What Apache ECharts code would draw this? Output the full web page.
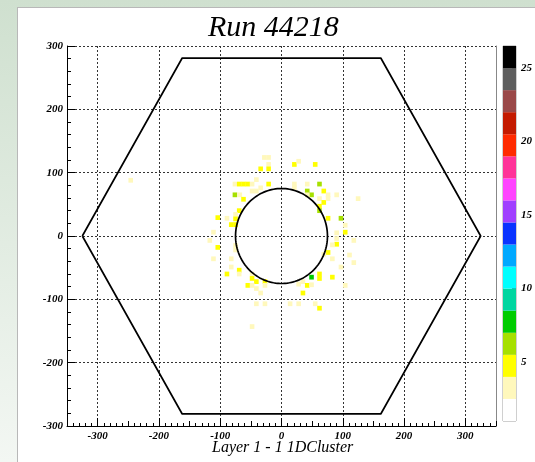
<!DOCTYPE html>
<html><head><meta charset="utf-8">
<script src="https://cdn.jsdelivr.net/npm/echarts@6/dist/echarts.min.js"></script>
<style>
html,body{margin:0;padding:0;width:535px;height:462px;overflow:hidden;background:linear-gradient(to bottom,#cfe0cf,#f3f7f3);}
#panel{position:absolute;left:17px;top:7px;width:530px;height:470px;background:#fff;border:1px solid #b8b8b8;}
#chart{position:absolute;left:0;top:0;width:535px;height:462px;}
</style></head><body><div id="panel"></div><div id="chart"></div>
<script>
const titleText = 'Run 44218';
const xTitle = 'Layer 1 - 1 1DCluster';
const xTicks = [-300, -200, -100, 0, 100, 200, 300];
const yTicks = [-300, -200, -100, 0, 100, 200, 300];
const hexX = [-325, -162, 162, 325, 162, -162, -325];
const hexY = [0, 281, 281, 0, -281, -281, 0];
const ringR = [75];
const cellX = [-28,-21,-21,-34,-21,21,28,55,-41,
  -76,-69,-62,-55,-48,-21,21,21,42,62,-34,
  -76,-68,-62,-48,-41,42,49,42,69,76,90,
  62,69,125,76,62,62,-69,-75,-75,-89,-104,
  -82,-75,76,97,104,104,90,90,-111,-117,118,90,83,
  -104,-75,-75,76,69,83,111,118,-111,-82,-82,
  -69,-69,-89,97,-48,-48,-41,-55,-48,-34,-27,-27,-41,
  28,35,42,49,62,62,83,49,35,104,
  -41,-27,14,28,55,62,-48,-246];
const cellY = [124,124,113,106,106,113,118,113,89,
  82,82,82,82,82,82,82,76,82,82,76,
  65,65,58,71,71,71,65,65,71,65,65,
  59,53,59,59,47,40,40,34,27,28,29,
  18,18,28,28,17,6,5,-4,6,-7,-7,-13,-14,
  -18,-15,-22,-26,-29,-36,-30,-42,-36,-36,-49,
  -54,-60,-60,-49,-60,-67,-72,-78,-78,-90,-72,-78,-83,
  -76,-72,-78,-65,-60,-67,-65,-77,-90,-78,
  -107,-107,-107,-107,-107,-114,-143,88];
const cellV = [3,3,3,5,5,5,3,5,3,
  3,5,5,5,3,5,3,3,3,6,3,
  6,3,5,3,3,6,6,3,5,3,3,
  3,5,3,3,5,6,5,3,5,3,5,
  5,5,5,6,3,5,3,3,3,3,3,5,3,
  5,3,3,5,3,3,3,3,3,3,3,
  5,3,5,3,3,5,5,5,3,3,5,3,3,
  3,3,5,8,5,5,5,3,5,3,
  3,3,3,3,3,5,3,3];
const binW = 7.5, binH = 7.5;
const paletteEdges = [1,2.5,4,5.5,7,8.5,10,11.5,13,14.5,16,17.5,19,20.5,22,23.5,25,26.5];
const paletteColors = ['#ffffff','#fff8bc','#ffff00','#a6e000','#00cc00','#00d6a0','#00ffff','#00a8ff',
  '#0a33ff','#a040ff','#ff44ff','#ff3399','#ff2a00','#c41a00','#9a4848','#5e5e5e','#000000'];
const paletteLabels = [5, 10, 15, 20, 25];

function colorFor(v) {
  for (let i = 0; i < paletteColors.length; i++) {
    if (v >= paletteEdges[i] && v < paletteEdges[i + 1]) return paletteColors[i];
  }
  return paletteColors[paletteColors.length - 1];
}

const serif = 'Liberation Serif';
const chart = echarts.init(document.getElementById('chart'), null, {renderer: 'canvas'});
const G = {left: 67, right: 39, top: 46, bottom: 36};
const labelStyle = {fontFamily: serif, fontStyle: 'italic', fontWeight: 'bold', fontSize: 11, color: '#000'};
const dotted = {color: '#333', width: 1, type: [2, 2]};
const hiddenLine = {show: false, onZero: false};

const option = {
  animation: false,
  backgroundColor: 'transparent',
  grid: [
    Object.assign({containLabel: false}, G),
    {left: 503, width: 13, top: 46, bottom: 41, show: true, borderColor: '#a0a0a0', borderWidth: 1, backgroundColor: 'transparent'}
  ],
  xAxis: [
    {type: 'value', gridIndex: 0, min: -350, max: 350, position: 'bottom',
     axisLine: {show: true, onZero: false, lineStyle: {color: '#000', width: 1}},
     axisTick: {show: true, inside: true, length: 8, customValues: xTicks, lineStyle: {color: '#000'}},
     axisLabel: Object.assign({show: true, customValues: xTicks, margin: 5}, labelStyle),
     splitLine: {show: true, lineStyle: dotted}},
    {type: 'value', gridIndex: 0, min: -350, max: 350, interval: 10, position: 'bottom',
     axisLine: hiddenLine, axisLabel: {show: false}, splitLine: {show: false},
     axisTick: {show: true, inside: true, length: 3, lineStyle: {color: '#000'}}},
    {type: 'value', gridIndex: 0, min: -350, max: 350, interval: 50, position: 'bottom',
     axisLine: hiddenLine, axisLabel: {show: false}, splitLine: {show: false},
     axisTick: {show: true, inside: true, length: 5, lineStyle: {color: '#000'}}},
    {type: 'value', gridIndex: 1, min: 0, max: 1, show: false}
  ],
  yAxis: [
    {type: 'value', gridIndex: 0, min: -300, max: 300, interval: 100, position: 'left',
     axisLine: {show: true, onZero: false, lineStyle: {color: '#000', width: 1}},
     axisTick: {show: true, inside: true, length: 8, lineStyle: {color: '#000'}},
     axisLabel: Object.assign({show: true, margin: 4}, labelStyle),
     splitLine: {show: true, lineStyle: dotted}},
    {type: 'value', gridIndex: 0, min: -300, max: 300, interval: 20, position: 'left',
     axisLine: hiddenLine, axisLabel: {show: false}, splitLine: {show: false},
     axisTick: {show: true, inside: true, length: 4, lineStyle: {color: '#000'}}},
    {type: 'value', gridIndex: 0, min: -300, max: 300, position: 'right',
     axisLine: {show: true, onZero: false, lineStyle: {color: '#888', width: 1}},
     axisTick: {show: false}, axisLabel: {show: false}, splitLine: {show: false}},
    {type: 'value', gridIndex: 1, min: 1, max: 26.5, position: 'right',
     axisLine: hiddenLine,
     axisTick: {show: true, inside: true, length: 4, customValues: paletteLabels, lineStyle: {color: '#333'}},
     axisLabel: Object.assign({show: true, customValues: paletteLabels, margin: 5}, labelStyle),
     splitLine: {show: false}}
  ],
  graphic: [
    {type: 'text', left: 208, top: 13, z: 10,
     style: {text: titleText, font: 'italic 30px "Liberation Serif"', fill: '#000'}},
    {type: 'text', left: 212, top: 440, z: 10,
     style: {text: xTitle, font: 'italic 16px "Liberation Serif"', fill: '#000'}}
  ],
  series: [
    {type: 'custom', xAxisIndex: 0, yAxisIndex: 0, z: 2,
     data: cellX.map((x, i) => [x, cellY[i], cellV[i]]),
     encode: {x: 0, y: 1},
     renderItem: function (params, api) {
       const x = api.value(0), y = api.value(1);
       const p0 = api.coord([x - binW / 2, y + binH / 2]);
       const p1 = api.coord([x + binW / 2, y - binH / 2]);
       return {type: 'rect', shape: {x: p0[0], y: p0[1], width: p1[0] - p0[0], height: p1[1] - p0[1]},
               style: {fill: colorFor(api.value(2))}};
     }},
    {type: 'line', xAxisIndex: 0, yAxisIndex: 0, z: 5,
     data: hexX.map((x, i) => [x, hexY[i]]),
     showSymbol: false, symbol: 'none',
     lineStyle: {color: '#000', width: 1.7}},
    {type: 'custom', xAxisIndex: 0, yAxisIndex: 0, z: 5,
     data: ringR.map(r => [0, 0, r]),
     encode: {x: 0, y: 1},
     renderItem: function (params, api) {
       const cx = api.value(0), cy = api.value(1), r = api.value(2);
       const pts = [];
       for (let k = 0; k < 144; k++) {
         const a = k / 144 * Math.PI * 2;
         pts.push(api.coord([cx + r * Math.cos(a), cy + r * Math.sin(a)]));
       }
       return {type: 'polygon', shape: {points: pts}, style: {fill: 'none', stroke: '#000', lineWidth: 1.7}};
     }},
    {type: 'custom', xAxisIndex: 3, yAxisIndex: 3, z: 2,
     data: paletteColors.map((c, i) => [0, paletteEdges[i], paletteEdges[i + 1], i]),
     renderItem: function (params, api) {
       const p0 = api.coord([0, api.value(2)]);
       const p1 = api.coord([1, api.value(1)]);
       return {type: 'rect', shape: {x: p0[0], y: p0[1], width: p1[0] - p0[0], height: p1[1] - p0[1]},
               style: {fill: paletteColors[api.value(3)]}};
     }}
  ]
};
chart.setOption(option);
</script></body></html>
